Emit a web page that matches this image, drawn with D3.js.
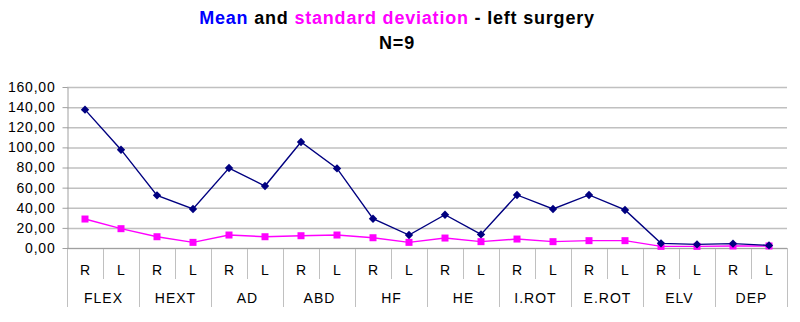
<!DOCTYPE html>
<html>
<head>
<meta charset="utf-8">
<script src="https://cdn.jsdelivr.net/npm/d3@7"></script>
<style>
  body { margin: 0; background: #fff; }
  text { font-family: Arial, "Liberation Sans", sans-serif; }
</style>
</head>
<body>
<script>
var groups = ["FLEX", "HEXT", "AD", "ABD", "HF", "HE", "I.ROT", "E.ROT", "ELV", "DEP"];
var sides = ["R", "L"];
var meanValues = [137.5, 97.7, 52.3, 38.8, 79.5, 61.6, 105.4, 79.1, 29.1, 12.9,
                  33.1, 13.5, 52.7, 38.8, 52.7, 37.8, 4.6, 3.6, 4.3, 2.6];
var sdValues = [28.8, 19.2, 11.2, 5.6, 12.9, 11.2, 12.2, 12.9, 10.2, 5.6,
                9.9, 6.3, 8.9, 6.3, 7.3, 7.3, 1.6, 1.6, 2.0, 2.0];
var yTicks = [0, 20, 40, 60, 80, 100, 120, 140, 160];

var width = 800, height = 322;
var svg = d3.select("body").append("svg")
    .attr("width", width)
    .attr("height", height);

var margin = {left: 67, right: 13, top: 87, bottom: 74};

// one band per group/side pair
var keys = [];
groups.forEach(function(g) { sides.forEach(function(s) { keys.push(g + "|" + s); }); });

var x = d3.scaleBand().domain(keys).range([margin.left, width - margin.right]);
var y = d3.scaleLinear().domain([0, 160]).range([height - margin.bottom, margin.top]);
var fmt = function(v) { return d3.format(".2f")(v).replace(".", ","); };

// title
var title = svg.append("text")
    .attr("x", 397).attr("y", 24)
    .attr("text-anchor", "middle")
    .style("font-size", "18px").style("font-weight", "bold")
    .style("letter-spacing", "0.8px");
title.append("tspan").attr("fill", "#0000ff").text("Mean");
title.append("tspan").attr("fill", "#000").text(" and ");
title.append("tspan").attr("fill", "#ff00ff").text("standard deviation");
title.append("tspan").attr("fill", "#000").text(" - left surgery");
svg.append("text")
    .attr("x", 397).attr("y", 49)
    .attr("text-anchor", "middle")
    .style("font-size", "18px").style("font-weight", "bold")
    .style("letter-spacing", "0.8px")
    .text("N=9");

// gridlines
svg.append("g").selectAll("line").data(yTicks).enter().append("line")
    .attr("x1", margin.left).attr("x2", width - margin.right)
    .attr("y1", function(d) { return y(d) + 0.5; })
    .attr("y2", function(d) { return y(d) + 0.5; })
    .attr("stroke", "#c0c0c0").attr("stroke-width", 1.5);

// y axis
var yAxis = svg.append("g")
    .attr("transform", "translate(" + (margin.left + 0.5) + ",0)")
    .call(d3.axisLeft(y).tickValues(yTicks).tickFormat(fmt).tickSize(5).tickSizeOuter(0).tickPadding(7));
yAxis.select(".domain").attr("stroke", "#a0a0a0");
yAxis.selectAll(".tick line").attr("stroke", "#a0a0a0");
yAxis.selectAll("text").style("font-size", "14px").style("letter-spacing", "0.8px").attr("fill", "#000");

// x axis: small ticks between R/L, long separators between groups
var y0 = y(0);
var bounds = d3.range(keys.length + 1);
svg.append("g").selectAll("line").data(bounds).enter().append("line")
    .attr("x1", function(i) { return Math.round(margin.left + i * x.bandwidth()) + 0.5; })
    .attr("x2", function(i) { return Math.round(margin.left + i * x.bandwidth()) + 0.5; })
    .attr("y1", y0)
    .attr("y2", function(i) { return i % 2 === 0 ? y0 + 59 : y0 + 31; })
    .attr("stroke", "#c0c0c0");
svg.append("line")
    .attr("x1", margin.left).attr("x2", width - margin.right)
    .attr("y1", y0 + 0.5).attr("y2", y0 + 0.5)
    .attr("stroke", "#a0a0a0");

svg.append("g").selectAll("text").data(keys).enter().append("text")
    .attr("x", function(d) { return x(d) + x.bandwidth() / 2 + 0.5; })
    .attr("y", y0 + 27)
    .attr("text-anchor", "middle")
    .style("font-size", "14px").style("letter-spacing", "1px")
    .text(function(d) { return d.split("|")[1]; });

svg.append("g").selectAll("text").data(groups).enter().append("text")
    .attr("x", function(g) { return x(g + "|R") + x.bandwidth() + 0.5; })
    .attr("y", y0 + 55)
    .attr("text-anchor", "middle")
    .style("font-size", "14px").style("letter-spacing", "1px")
    .text(function(g) { return g; });

// series
var cx = function(d, i) { return x(keys[i]) + x.bandwidth() / 2; };
var line = d3.line().x(cx).y(function(d) { return y(d); });

svg.append("path").datum(sdValues)
    .attr("d", line).attr("fill", "none")
    .attr("stroke", "#ff00ff").attr("stroke-width", 1.4);
svg.append("path").datum(meanValues)
    .attr("d", line).attr("fill", "none")
    .attr("stroke", "#000080").attr("stroke-width", 1.4);

svg.append("g").selectAll("rect").data(sdValues).enter().append("rect")
    .attr("x", function(d, i) { return cx(d, i) - 3.5; })
    .attr("y", function(d) { return y(d) - 3.5; })
    .attr("width", 7).attr("height", 7)
    .attr("fill", "#ff00ff");

svg.append("g").selectAll("path").data(meanValues).enter().append("path")
    .attr("d", d3.symbol(d3.symbolDiamond2, 45))
    .attr("transform", function(d, i) { return "translate(" + cx(d, i) + "," + y(d) + ")"; })
    .attr("fill", "#000080");
</script>
</body>
</html>
